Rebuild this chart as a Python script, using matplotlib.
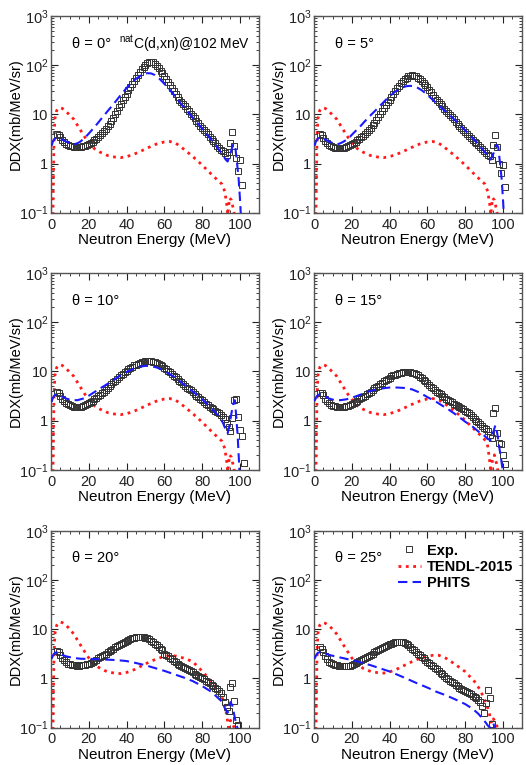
import numpy as np
import matplotlib
matplotlib.use("Agg")
import matplotlib.pyplot as plt
from matplotlib.ticker import MultipleLocator, LogLocator, NullFormatter, FixedLocator, FixedFormatter

plt.rcParams['font.family'] = ['Liberation Sans', 'DejaVu Sans']
plt.rcParams['mathtext.fontset'] = 'custom'
plt.rcParams['mathtext.rm'] = 'Liberation Sans'
plt.rcParams['mathtext.it'] = 'Liberation Sans:italic'

# ---- datos ----
angulos = [0, 5, 10, 15, 20, 25]

y_ticks = [0.1, 1, 10, 100, 1000]
y_ticklabels = [r'$10^{-1}$', '1', '10', r'$10^{2}$', r'$10^{3}$']

# experimental, 1 MeV bins a partir de 3 MeV
exp_0 = [4.0, 3.8, 3.4, 3.0, 2.7, 2.5, 2.4, 2.3, 2.25, 2.2, 2.2, 2.2, 2.2, 2.2, 2.25, 2.3, 2.4, 2.5,
         2.6, 2.8, 3.0, 3.2, 3.5, 3.8, 4.1, 4.5, 5.0, 5.7, 6.5, 7.4, 8.6, 10.0, 11.8, 13.9, 16.5, 19.5,
         22.5, 26, 31, 36, 42, 48, 56, 64, 73, 83, 93, 103, 111, 116, 118, 115, 108, 98, 88, 78, 68, 60,
         52, 45, 39, 34, 30, 26, 23, 20, 18, 16, 14.5, 13, 11.5, 10.3, 9.3, 8.3, 7.4, 6.6, 5.8, 5.2,
         4.7, 4.3, 3.9, 3.5, 3.2, 2.9, 2.6, 2.3, 2.1, 1.9, 1.8, 1.6, 1.5, 1.7, 2.6, 4.3, 2.3, 1.3, 0.7,
         1.2, 0.37]
exp_5 = [4.0, 3.8, 3.3, 2.9, 2.6, 2.4, 2.3, 2.2, 2.1, 2.05, 2.05, 2.05, 2.05, 2.1, 2.15, 2.25, 2.35,
         2.5, 2.6, 2.8, 3.0, 3.2, 3.4, 3.7, 4.0, 4.4, 4.8, 5.3, 6.0, 6.8, 7.8, 9.0, 10.3, 11.8, 13.5,
         15.5, 17.8, 20, 23, 26, 30, 34, 38, 43, 48, 52, 56, 59, 61, 62, 61, 59, 56, 52, 48, 44, 40, 36,
         32, 28, 25, 22, 20, 18, 16, 14.5, 13, 11.8, 10.6, 9.6, 8.7, 7.9, 7.1, 6.4, 5.8, 5.2, 4.7, 4.3,
         3.9, 3.6, 3.3, 3.0, 2.8, 2.6, 2.4, 2.2, 2.0, 1.8, 1.6, 1.5, 1.4, 1.2, 2.4, 3.8, 2.2, 1.0, 0.65,
         0.95, 0.33]
exp_10 = [3.9, 3.7, 3.2, 2.8, 2.5, 2.3, 2.15, 2.05, 1.95, 1.9, 1.88, 1.88, 1.9, 1.92, 1.97, 2.05, 2.15,
          2.25, 2.4, 2.55, 2.7, 2.9, 3.1, 3.35, 3.6, 3.9, 4.2, 4.6, 5.0, 5.5, 6.0, 6.5, 7.1, 7.7, 8.3,
          9.0, 9.7, 10.4, 11.1, 11.8, 12.5, 13.2, 13.8, 14.4, 14.9, 15.3, 15.7, 16.0, 16.2, 16.3, 16.2,
          15.9, 15.4, 14.8, 14.1, 13.4, 12.6, 11.9, 11.2, 10.4, 9.6, 8.9, 8.2, 7.6, 7.0, 6.5, 6.0, 5.5,
          5.1, 4.7, 4.4, 4.1, 3.8, 3.5, 3.2, 3.0, 2.8, 2.6, 2.4, 2.2, 2.05, 1.9, 1.8, 1.7, 1.6, 1.5,
          1.4, 1.3, 1.2, 1.1, 0.9, 0.75, 0.62, 1.15, 2.6, 2.7, 1.2, 0.65, 0.48, 0.14]
exp_15 = [3.7, 3.6, 3.3, 2.8, 2.5, 2.25, 2.1, 2.0, 1.95, 1.92, 1.9, 1.9, 1.9, 1.92, 1.95, 2.0, 2.1,
          2.2, 2.3, 2.4, 2.55, 2.7, 2.85, 3.0, 3.2, 3.4, 3.65, 3.9, 4.2, 4.5, 4.8, 5.1, 5.5, 5.9, 6.3,
          6.7, 7.1, 7.5, 7.9, 8.3, 8.6, 8.9, 9.2, 9.4, 9.6, 9.7, 9.7, 9.7, 9.6, 9.4, 9.1, 8.7, 8.3, 7.8,
          7.3, 6.8, 6.3, 5.8, 5.3, 4.9, 4.5, 4.2, 3.9, 3.6, 3.4, 3.2, 3.0, 2.8, 2.65, 2.5, 2.35, 2.2,
          2.1, 2.0, 1.9, 1.8, 1.7, 1.6, 1.5, 1.4, 1.3, 1.2, 1.1, 1.0, 0.92, 0.85, 0.78, 0.72, 0.66, 0.6,
          0.52, 0.45, 1.4, 1.8, 0.55, 0.35, 0.33, 0.2, 0.13]
exp_20 = [3.6, 3.5, 3.0, 2.6, 2.35, 2.15, 2.0, 1.95, 1.9, 1.85, 1.83, 1.82, 1.82, 1.83, 1.85, 1.9,
          1.95, 2.0, 2.1, 2.2, 2.3, 2.4, 2.55, 2.7, 2.85, 3.0, 3.2, 3.4, 3.6, 3.8, 4.05, 4.3, 4.55, 4.8,
          5.05, 5.3, 5.55, 5.8, 6.05, 6.3, 6.5, 6.7, 6.85, 7.0, 7.05, 7.05, 6.95, 6.75, 6.5, 6.2, 5.85,
          5.5, 5.1, 4.7, 4.35, 4.0, 3.7, 3.2, 3.0, 2.8, 2.6, 2.45, 2.3, 2.15, 2.0, 1.9, 1.8, 1.7, 1.62,
          1.55, 1.47, 1.4, 1.32, 1.25, 1.18, 1.12, 1.06, 1.0, 0.95, 0.9, 0.85, 0.8, 0.75, 0.7, 0.65,
          0.6, 0.55, 0.5, 0.42, 0.33, 0.26, 0.22, 0.68, 0.8, 0.35, 0.14, 0.11]
exp_25 = [4.3, 4.0, 3.5, 2.9, 2.5, 2.2, 2.05, 1.95, 1.88, 1.83, 1.8, 1.77, 1.75, 1.75, 1.75, 1.78,
          1.82, 1.88, 1.95, 2.03, 2.12, 2.22, 2.33, 2.45, 2.58, 2.72, 2.87, 3.03, 3.2, 3.38, 3.56, 3.75,
          3.95, 4.15, 4.35, 4.55, 4.75, 4.95, 5.12, 5.28, 5.4, 5.5, 5.6, 5.6, 5.5, 5.3, 5.0, 4.7, 4.4,
          4.05, 3.75, 3.45, 3.2, 2.95, 2.75, 2.55, 2.4, 2.2, 2.05, 1.9, 1.77, 1.64, 1.52, 1.41, 1.3,
          1.2, 1.11, 1.03, 0.96, 0.9, 0.84, 0.79, 0.74, 0.69, 0.65, 0.62, 0.59, 0.56, 0.53, 0.5, 0.47,
          0.44, 0.42, 0.39, 0.36, 0.33, 0.27, 0.2, 0.31, 0.58, 0.39, 0.12]

# TENDL-2015
tendl_e_0 = [1.0, 1.5, 2, 3, 4, 5, 6, 8, 10, 12, 14, 16, 18, 20, 23, 26, 30, 34, 37, 40, 44, 48, 52,
             56, 60, 63, 66, 70, 74, 78, 82, 86, 89, 90.5, 92, 93, 93.6, 94.5, 95.5, 96.5, 97.2]
tendl_0 = [0.09, 2, 8, 12, 13.5, 13.6, 13.2, 11.5, 9.5, 8.0, 6.0, 4.5, 3.4, 2.7, 2.0, 1.7, 1.45, 1.35,
           1.32, 1.38, 1.55, 1.82, 2.15, 2.5, 2.75, 2.8, 2.6, 2.0, 1.5, 1.1, 0.78, 0.55, 0.43, 0.38,
           0.27, 0.15, 0.09, 0.2, 0.18, 0.12, 0.09]
tendl_e_15 = [1.0, 1.5, 2, 3, 4, 5, 6, 8, 10, 12, 14, 16, 18, 20, 23, 26, 30, 34, 37, 40, 44, 48, 52,
              56, 60, 63, 66, 70, 74, 78, 82, 86, 89, 91, 92, 93, 93.6, 94.5, 95.5, 96.5, 97.5]
tendl_15 = [0.09, 2, 8, 12, 13.5, 13.6, 13.2, 11.5, 9.5, 8.0, 6.0, 4.5, 3.4, 2.7, 2.0, 1.7, 1.45, 1.35,
            1.32, 1.38, 1.55, 1.82, 2.15, 2.5, 2.75, 2.8, 2.65, 2.1, 1.6, 1.2, 0.85, 0.6, 0.47, 0.38,
            0.3, 0.15, 0.09, 0.16, 0.2, 0.14, 0.09]
tendl_e_20 = [1.0, 1.5, 2, 3, 4, 5, 6, 8, 10, 12, 14, 16, 18, 20, 23, 26, 30, 34, 37, 40, 44, 48, 52,
              56, 60, 63, 66, 70, 75, 80, 84, 87, 90, 92, 93, 94, 95, 96, 97.5]
tendl_20 = [0.09, 2, 8, 12, 13.8, 14, 13.6, 12, 10, 8.0, 6.0, 4.5, 3.4, 2.6, 1.9, 1.6, 1.35, 1.27,
            1.25, 1.32, 1.5, 1.8, 2.15, 2.5, 2.8, 2.9, 2.85, 2.6, 2.2, 1.4, 0.95, 0.65, 0.46, 0.29,
            0.18, 0.1, 0.14, 0.12, 0.09]
tendl_e_25 = [1.0, 1.5, 2, 3, 4, 5, 6, 8, 10, 12, 14, 16, 18, 20, 23, 26, 30, 34, 37, 40, 44, 48, 52,
              56, 60, 63, 66, 70, 75, 80, 85, 88, 90, 92, 93, 94, 95, 96, 97.5]
tendl_25 = [0.09, 2, 8, 12, 13.5, 13.6, 13.2, 11.8, 9.8, 8.0, 6.0, 4.5, 3.4, 2.6, 1.9, 1.6, 1.38,
            1.3, 1.28, 1.35, 1.55, 1.85, 2.2, 2.55, 2.8, 2.95, 2.95, 2.55, 1.9, 1.37, 0.86, 0.58, 0.39,
            0.25, 0.18, 0.12, 0.15, 0.13, 0.09]

# PHITS
phits_e_0 = [0.3, 1, 2, 3, 5, 8, 11, 13, 15, 17, 19, 21, 23, 25, 27, 29, 31, 33, 35, 37, 39, 41, 43,
             45, 47, 49, 51, 53, 55, 57, 59, 61, 63, 65, 67, 69, 71, 73, 75, 77, 79, 81, 83, 85, 87,
             89, 91, 92.5, 93.5, 95, 96.5, 97.5, 98.5, 99.3, 100, 100.5]
phits_0 = [2.3, 2.8, 3.2, 3.4, 3.2, 2.8, 2.5, 2.5, 2.7, 3.1, 3.7, 4.5, 5.5, 6.8, 8.5, 10.5, 13, 16,
           20, 25, 31, 38, 45, 53, 60, 66, 69, 68, 63, 55, 46, 38, 31, 25, 20, 16, 13, 10.5, 8.5, 7,
           5.7, 4.6, 3.7, 3.0, 2.4, 1.9, 1.5, 1.2, 1.1, 1.6, 2.5, 2.3, 1.0, 0.5, 0.2, 0.09]
phits_e_5 = phits_e_0
phits_5 = [2.3, 2.8, 3.2, 3.4, 3.2, 2.8, 2.5, 2.5, 2.7, 3.0, 3.5, 4.2, 5.0, 6.0, 7.3, 8.8, 10.5,
           12.5, 15, 18, 21.5, 25, 29, 32.5, 35.5, 37.5, 38, 37, 34.5, 31, 27, 23, 19.5, 16.5, 14, 12,
           10.2, 8.7, 7.4, 6.2, 5.2, 4.3, 3.6, 3.0, 2.5, 2.0, 1.6, 1.3, 1.2, 1.6, 2.4, 2.2, 1.0, 0.5,
           0.2, 0.09]
phits_e_10 = [0.3, 1, 2, 3, 5, 8, 11, 14, 17, 20, 23, 26, 29, 32, 35, 38, 41, 44, 47, 50, 53, 56, 59,
              62, 65, 68, 71, 74, 77, 80, 83, 86, 89, 91, 92.5, 93.5, 94.5, 95.5, 96.5, 97.3, 98,
              98.8, 99.5, 99.8]
phits_10 = [2.4, 2.9, 3.3, 3.5, 3.2, 2.8, 2.6, 2.6, 2.8, 3.2, 3.8, 4.5, 5.3, 6.3, 7.5, 8.8, 10.2,
            11.5, 12.5, 13.0, 12.8, 12.0, 10.7, 9.2, 7.8, 6.4, 5.2, 4.2, 3.4, 2.7, 2.1, 1.6, 1.2, 0.9,
            0.65, 0.55, 0.8, 1.4, 2.2, 2.6, 1.3, 0.5, 0.15, 0.09]
phits_e_15 = [0.3, 1, 2, 3, 5, 8, 11, 14, 17, 20, 24, 28, 32, 36, 40, 44, 48, 52, 56, 60, 64, 68, 72,
              76, 80, 84, 87, 90, 92, 93.5, 95, 96, 97, 98, 99, 100]
phits_15 = [2.5, 2.9, 3.3, 3.4, 3.2, 2.8, 2.6, 2.6, 2.7, 2.9, 3.3, 3.8, 4.2, 4.5, 4.7, 4.7, 4.6, 4.3,
            3.7, 3.0, 2.5, 2.0, 1.6, 1.25, 0.95, 0.75, 0.6, 0.5, 0.42, 0.4, 0.6, 0.8, 0.55, 0.3, 0.17,
            0.09]
phits_e_20 = [0.3, 1, 2, 3, 5, 8, 12, 16, 20, 25, 30, 35, 40, 45, 50, 55, 60, 65, 70, 75, 80, 84,
              87, 90, 92, 93.5, 95, 96, 97, 98, 99]
phits_20 = [2.5, 2.9, 3.3, 3.4, 3.1, 2.8, 2.6, 2.5, 2.5, 2.45, 2.4, 2.35, 2.25, 2.05, 1.85, 1.62,
            1.42, 1.22, 1.05, 0.88, 0.7, 0.56, 0.45, 0.35, 0.25, 0.2, 0.33, 0.28, 0.18, 0.12, 0.09]
phits_e_25 = [0.3, 1, 2, 3, 5, 8, 12, 16, 20, 25, 30, 35, 40, 45, 50, 55, 60, 65, 70, 75, 80, 84,
              87, 90, 92, 93, 94, 95, 96]
phits_25 = [2.5, 2.9, 3.3, 3.4, 3.3, 3.0, 2.75, 2.55, 2.35, 2.1, 1.85, 1.6, 1.38, 1.15, 0.95, 0.78,
            0.65, 0.53, 0.45, 0.37, 0.3, 0.24, 0.19, 0.14, 0.11, 0.1, 0.1, 0.12, 0.09]

exps = [exp_0, exp_5, exp_10, exp_15, exp_20, exp_25]
tendls = [(tendl_e_0, tendl_0), (tendl_e_0, tendl_0), (tendl_e_0, tendl_0),
          (tendl_e_15, tendl_15), (tendl_e_20, tendl_20), (tendl_e_25, tendl_25)]
phitss = [(phits_e_0, phits_0), (phits_e_5, phits_5), (phits_e_10, phits_10),
          (phits_e_15, phits_15), (phits_e_20, phits_20), (phits_e_25, phits_25)]

# ---- figura ----
fig = plt.figure(figsize=(5.26, 7.65), dpi=100)

lefts = [0.097, 0.597]
width = 0.395
bottoms = [0.722, 0.386, 0.049]
height = 0.257

for i, ang in enumerate(angulos):
    fila, col = divmod(i, 2)
    ax = fig.add_axes([lefts[col], bottoms[fila], width, height])

    e_exp = np.arange(3, 3 + len(exps[i]))
    ax.plot(e_exp, exps[i], 's', ms=3.8, mfc='none', mec='#333333', mew=0.7, label='Exp.', zorder=3)
    ax.plot(tendls[i][0], tendls[i][1], ':', color='#ff1a1a', lw=2.0, label='TENDL-2015', zorder=2)
    ax.plot(phitss[i][0], phitss[i][1], '--', color='#1a1aff', lw=1.5, dashes=(4.5, 2.5),
            label='PHITS', zorder=4)

    ax.set_yscale('log')
    ax.set_xlim(0, 110)
    ax.set_ylim(0.1, 1000)
    ax.xaxis.set_major_locator(MultipleLocator(20))
    ax.xaxis.set_minor_locator(MultipleLocator(5))
    ax.yaxis.set_major_locator(FixedLocator(y_ticks))
    ax.yaxis.set_major_formatter(FixedFormatter(y_ticklabels))
    ax.yaxis.set_minor_locator(LogLocator(base=10, subs=np.arange(2, 10), numticks=20))
    ax.yaxis.set_minor_formatter(NullFormatter())
    ax.tick_params(which='both', direction='in', top=True, right=True, labelsize=10.5,
                   colors='#222222')
    ax.tick_params(which='major', length=5, width=0.8)
    ax.tick_params(which='minor', length=2.5, width=0.6)
    ax.tick_params(axis='y', pad=2)
    for s in ax.spines.values():
        s.set_color('#555555')
        s.set_linewidth(1.0)

    ax.set_xlabel('Neutron Energy (MeV)', fontsize=11, labelpad=1)
    ax.set_ylabel('DDX(mb/MeV/sr)', fontsize=10.5)
    ax.yaxis.set_label_coords(-0.135, 0.5)

    ax.text(0.10, 0.86, u'\u03b8 = %d\u00b0' % ang, transform=ax.transAxes, fontsize=10.5,
            va='center', ha='left')

    if i == 0:
        ax.text(0.96, 0.86, r'$^{\rm nat}$C(d,xn)@102 MeV', transform=ax.transAxes, fontsize=10,
                va='center', ha='right')
    if i == 5:
        ax.legend(loc='upper left', bbox_to_anchor=(0.36, 0.98), frameon=False,
                  prop={'weight': 'bold', 'size': 10.5}, handlelength=1.6, handletextpad=0.4,
                  labelspacing=0.15, borderaxespad=0.2)

fig.savefig('out.png', dpi=100)
